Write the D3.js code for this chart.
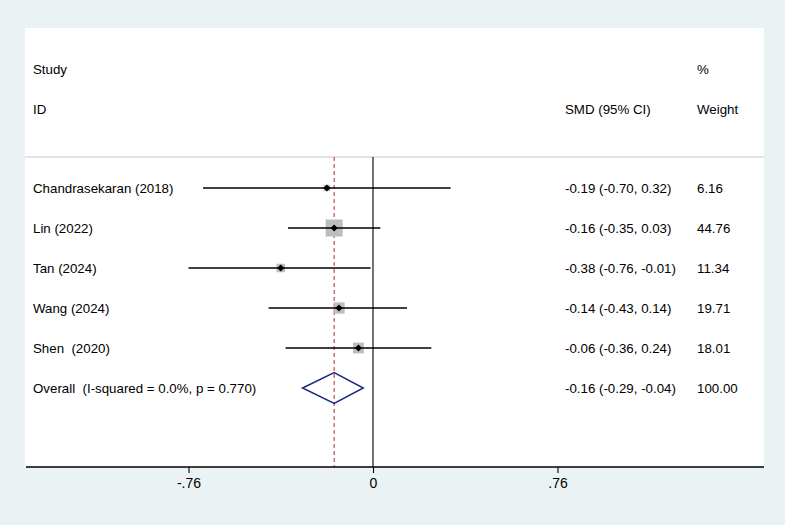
<!DOCTYPE html>
<html>
<head>
<meta charset="utf-8">
<script src="https://cdn.jsdelivr.net/npm/d3@7"></script>
<style>
  body { margin: 0; background: #eaf2f3; }
  svg { display: block; font-family: "Liberation Sans", Arial, Helvetica, sans-serif; }
  text { white-space: pre; }
</style>
</head>
<body>
<script>
// study data
var studies = ["Chandrasekaran (2018)", "Lin (2022)", "Tan (2024)", "Wang (2024)", "Shen  (2020)"];
var smd     = [-0.19, -0.16, -0.38, -0.14, -0.06];
var lower   = [-0.70, -0.35, -0.76, -0.43, -0.36];
var upper   = [ 0.32,  0.03, -0.01,  0.14,  0.24];
var weights = [6.16, 44.76, 11.34, 19.71, 18.01];

// pooled estimate
var overallLabel = "Overall  (I-squared = 0.0%, p = 0.770)";
var overall = {est: -0.16, lo: -0.29, hi: -0.04, weight: 100.00};

var tickValues = [-0.76, 0, 0.76];
var tickLabels = ["-.76", "0", ".76"];

var W = 785, H = 525;
var panel = {left: 25, top: 28, right: 764, bottom: 467};

var svg = d3.select("body").append("svg")
  .attr("width", W)
  .attr("height", H);

// background + white plot panel
svg.append("rect").attr("width", W).attr("height", H).attr("fill", "#eaf2f3");
svg.append("rect")
  .attr("x", panel.left).attr("y", panel.top)
  .attr("width", panel.right - panel.left).attr("height", panel.bottom - panel.top)
  .attr("fill", "#ffffff");

// scales
var x = d3.scaleLinear().domain([-0.76, 0.76]).range([188.5, 557.5]);
var rowNames = studies.concat(["__overall"]);
var y = d3.scalePoint().domain(rowNames).range([188, 388]);
var box = d3.scaleSqrt().domain([0, 44.76]).range([0, 17]);
// plain hyphen for negatives, like Stata output
var fmt = d3.formatLocale({decimal: ".", thousands: ",", grouping: [3], currency: ["", ""], minus: "-"}).format(".2f");

var col = {label: 33, est: 565, weight: 697};
var headerLine = 157;

// headers
var hdr = svg.append("g").attr("font-size", 13.3).attr("fill", "#000");
hdr.append("text").attr("x", col.label).attr("y", 69).attr("dy", "0.35em").text("Study");
hdr.append("text").attr("x", col.label).attr("y", 109).attr("dy", "0.35em").text("ID");
hdr.append("text").attr("x", col.weight).attr("y", 69).attr("dy", "0.35em").text("%");
hdr.append("text").attr("x", col.est).attr("y", 109).attr("dy", "0.35em").text("SMD (95% CI)");
hdr.append("text").attr("x", col.weight).attr("y", 109).attr("dy", "0.35em").text("Weight");

svg.append("line")
  .attr("x1", panel.left).attr("x2", panel.right)
  .attr("y1", headerLine).attr("y2", headerLine)
  .attr("stroke", "#c8c8c8").attr("stroke-width", 1.2);

// null line and overall effect line
svg.append("line")
  .attr("x1", x(0)).attr("x2", x(0))
  .attr("y1", headerLine).attr("y2", panel.bottom)
  .attr("stroke", "#000").attr("stroke-width", 1.1);

svg.append("line")
  .attr("x1", x(overall.est)).attr("x2", x(overall.est))
  .attr("y1", headerLine).attr("y2", panel.bottom)
  .attr("stroke", "#b22a2a").attr("stroke-width", 1)
  .attr("stroke-dasharray", "4,3");

// study rows
var rows = studies.map(function(s, i) {
  return {name: s, est: smd[i], lo: lower[i], hi: upper[i], w: weights[i]};
});

var g = svg.append("g");

g.selectAll("rect.wbox").data(rows).enter().append("rect")
  .attr("class", "wbox")
  .attr("x", function(d) { return x(d.est) - box(d.w) / 2; })
  .attr("y", function(d) { return y(d.name) - box(d.w) / 2; })
  .attr("width", function(d) { return box(d.w); })
  .attr("height", function(d) { return box(d.w); })
  .attr("fill", "#bdbdbd");

g.selectAll("line.ci").data(rows).enter().append("line")
  .attr("class", "ci")
  .attr("x1", function(d) { return x(d.lo); })
  .attr("x2", function(d) { return x(d.hi); })
  .attr("y1", function(d) { return y(d.name); })
  .attr("y2", function(d) { return y(d.name); })
  .attr("stroke", "#000").attr("stroke-width", 1.3);

// point estimate: small square turned 45 degrees
g.selectAll("path.pt").data(rows).enter().append("path")
  .attr("class", "pt")
  .attr("transform", function(d) { return "translate(" + x(d.est) + "," + y(d.name) + ") rotate(45)"; })
  .attr("d", d3.symbol().type(d3.symbolSquare).size(26))
  .attr("fill", "#000");

var txt = svg.append("g").attr("font-size", 13.3).attr("fill", "#000");
txt.selectAll("text.lab").data(rows).enter().append("text")
  .attr("x", col.label).attr("y", function(d) { return y(d.name); })
  .attr("dy", "0.35em").text(function(d) { return d.name; });
txt.selectAll("text.est").data(rows).enter().append("text")
  .attr("x", col.est).attr("y", function(d) { return y(d.name); })
  .attr("dy", "0.35em")
  .text(function(d) { return fmt(d.est) + " (" + fmt(d.lo) + ", " + fmt(d.hi) + ")"; });
txt.selectAll("text.wt").data(rows).enter().append("text")
  .attr("x", col.weight).attr("y", function(d) { return y(d.name); })
  .attr("dy", "0.35em").text(function(d) { return fmt(d.w); });

// overall diamond
var yo = y("__overall");
svg.append("path")
  .attr("d", "M" + x(overall.lo) + "," + yo +
             "L" + x(overall.est) + "," + (yo - 15.5) +
             "L" + x(overall.hi) + "," + yo +
             "L" + x(overall.est) + "," + (yo + 15.5) + "Z")
  .attr("fill", "none").attr("stroke", "#1c2a84").attr("stroke-width", 1.5);

txt.append("text").attr("x", col.label).attr("y", yo).attr("dy", "0.35em").text(overallLabel);
txt.append("text").attr("x", col.est).attr("y", yo).attr("dy", "0.35em")
  .text(fmt(overall.est) + " (" + fmt(overall.lo) + ", " + fmt(overall.hi) + ")");
txt.append("text").attr("x", col.weight).attr("y", yo).attr("dy", "0.35em").text(fmt(overall.weight));

// x axis
svg.append("line")
  .attr("x1", panel.left + 1).attr("x2", panel.right)
  .attr("y1", panel.bottom).attr("y2", panel.bottom)
  .attr("stroke", "#000").attr("stroke-width", 1.3);

var axis = svg.append("g")
  .attr("transform", "translate(0," + panel.bottom + ")")
  .call(d3.axisBottom(x).tickValues(tickValues).tickSize(6).tickSizeOuter(0)
    .tickFormat(function(d, i) { return tickLabels[i]; }));
axis.select(".domain").remove();
axis.selectAll(".tick line").attr("stroke", "#000").attr("stroke-width", 1.1);
axis.selectAll(".tick text")
  .attr("y", 17).attr("dy", "0")
  .attr("font-size", 14)
  .attr("font-family", "'Liberation Sans Narrow', 'Liberation Sans', Arial, sans-serif")
  .attr("fill", "#000")
  .attr("dominant-baseline", "middle");
</script>
</body>
</html>
